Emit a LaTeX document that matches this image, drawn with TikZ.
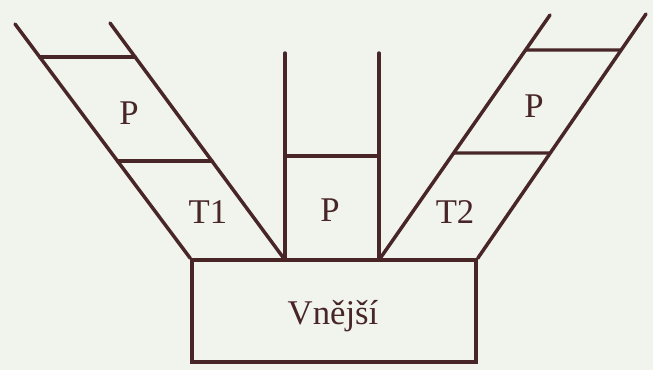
\documentclass[tikz,border=0pt]{standalone}
\usepackage{fontspec}
\setmainfont{Liberation Serif}
\definecolor{ink}{RGB}{72,38,40}
\definecolor{paper}{RGB}{241,243,237}

\begin{document}
\begin{tikzpicture}[x=0.75pt, y=-0.75pt,
  wall/.style={draw=ink, line width=2.6pt, line cap=round},
  box/.style={wall, rectangle, minimum width=213pt, minimum height=76.5pt,
    inner sep=0pt},
  lbl/.style={font=\fontsize{26}{30}\selectfont, text=ink},
]
\fill[paper] (0,0) rectangle (653,370);
\useasboundingbox (0,0) rectangle (653,370);

% Outer space
\node[box] (vnejsi) at (334,311) {};
\node[lbl] (vtext) at (333,316) {Vnější};

% Corners on the top edge
\coordinate (bl) at (vnejsi.north west);
\coordinate (br) at (vnejsi.north east);
\coordinate (m1) at (285,260);
\coordinate (m2) at (379,260);

% Left channel (T1)
\coordinate (l1) at (15,24);
\coordinate (l2) at (110,23);
\draw[wall] (l1) -- (bl);
\draw[wall] (l2) -- (m1);
\draw[wall] (intersection of l1--bl and 0,57--10,57)
  -- (intersection of l2--m1 and 0,57--10,57);
\draw[wall] (intersection of l1--bl and 0,161--10,161)
  -- (intersection of l2--m1 and 0,161--10,161);

% Middle channel
\coordinate (c1) at (285,53);
\coordinate (c2) at (379,53);
\draw[wall] (m1) -- (c1);
\draw[wall] (m2) -- (c2);
\draw[wall] (285,156) -- (379,156);

% Right channel (T2)
\coordinate (r1) at (550,15);
\coordinate (r2) at (646,14);
\draw[wall] (m2) -- (r1);
\draw[wall] (br) -- (r2);
\draw[wall] (intersection of m2--r1 and 0,50--10,50)
  -- (intersection of br--r2 and 0,50--10,50);
\draw[wall] (intersection of m2--r1 and 0,153--10,153)
  -- (intersection of br--r2 and 0,153--10,153);

% Labels
\node[lbl] (pl) at (129,113) {P};
\node[lbl] (t1) at (208,212) {T1};
\node[lbl] (pm) at (330,210) {P};
\node[lbl] (t2) at (455,212) {T2};
\node[lbl] (pr) at (534,106) {P};

\end{tikzpicture}
\end{document}
